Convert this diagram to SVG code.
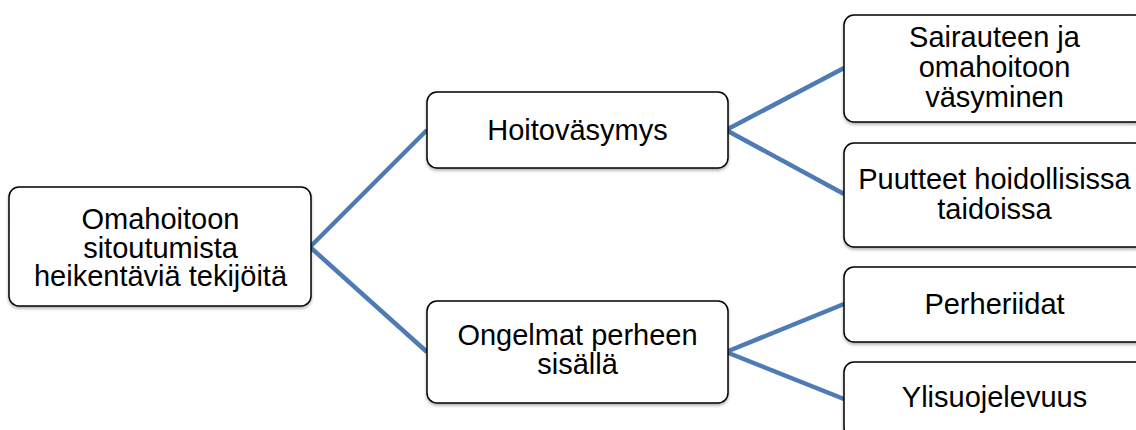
<svg xmlns="http://www.w3.org/2000/svg" width="1136" height="430" viewBox="0 0 1136 430">
<style>
.box{fill:#fff;stroke:#000;stroke-width:1.5;filter:url(#sh)}
.t{font-family:"Liberation Sans",Arial,sans-serif;font-size:29px;fill:#000;text-anchor:middle}
.c{stroke:#4F7BB5;stroke-width:4.5;fill:none}
</style>
<defs>
<filter id="sh" x="-5%" y="-5%" width="110%" height="120%">
<feDropShadow dx="0" dy="2" stdDeviation="1.5" flood-color="#000" flood-opacity="0.3"/>
</filter>
</defs>
<rect width="1136" height="430" fill="#fff"/>
<g id="connectors">
<line class="c" x1="310" y1="247" x2="427" y2="130"/>
<line class="c" x1="310" y1="247" x2="427" y2="352"/>
<line class="c" x1="726" y1="130" x2="844" y2="68"/>
<line class="c" x1="726" y1="130" x2="844" y2="194"/>
<line class="c" x1="726" y1="352" x2="844" y2="304"/>
<line class="c" x1="726" y1="352" x2="844" y2="399"/>
</g>
<g id="root">
<rect class="box" x="9" y="187" width="302" height="119" rx="10"/>
<text class="t" x="160.5" y="229">Omahoitoon</text>
<text class="t" x="160.5" y="257.5">sitoutumista</text>
<text class="t" x="160.5" y="286">heikentäviä tekijöitä</text>
</g>
<g id="hoitovasymys">
<rect class="box" x="427" y="92" width="301" height="76" rx="10"/>
<text class="t" x="577.5" y="140">Hoitoväsymys</text>
</g>
<g id="ongelmat">
<rect class="box" x="427" y="301" width="301" height="102" rx="10"/>
<text class="t" x="577.5" y="345">Ongelmat perheen</text>
<text class="t" x="577.5" y="373.5">sisällä</text>
</g>
<g id="sairauteen">
<rect class="box" x="844" y="15" width="301" height="107" rx="10"/>
<text class="t" x="994.5" y="46.5">Sairauteen ja</text>
<text class="t" x="994.5" y="77">omahoitoon</text>
<text class="t" x="994.5" y="107">väsyminen</text>
</g>
<g id="puutteet">
<rect class="box" x="844" y="143" width="301" height="104" rx="10"/>
<text class="t" x="994.5" y="188.5">Puutteet hoidollisissa</text>
<text class="t" x="994.5" y="218.5">taidoissa</text>
</g>
<g id="perheriidat">
<rect class="box" x="844" y="267" width="301" height="75" rx="10"/>
<text class="t" x="994.5" y="313.5">Perheriidat</text>
</g>
<g id="ylisuojelevuus">
<rect class="box" x="844" y="362" width="301" height="76" rx="10"/>
<text class="t" x="994.5" y="407">Ylisuojelevuus</text>
</g>
</svg>
